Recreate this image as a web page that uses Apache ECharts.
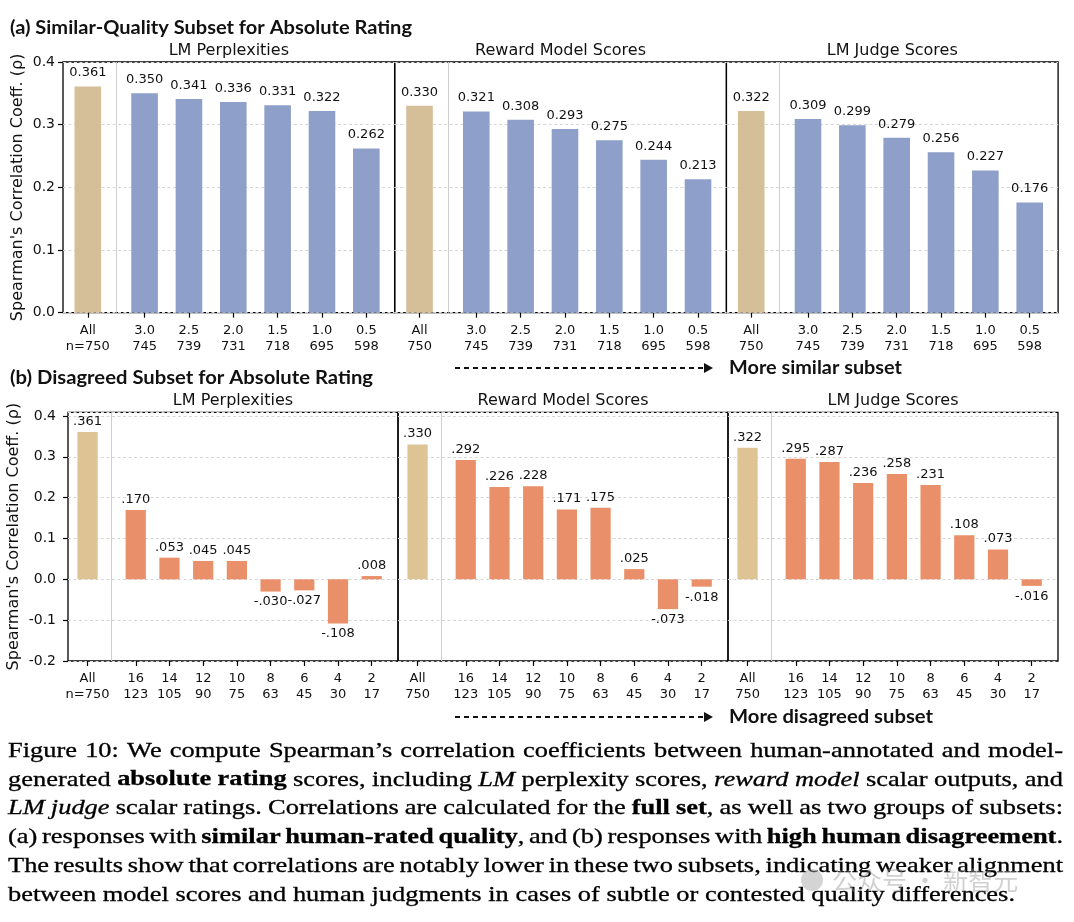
<!DOCTYPE html>
<html>
<head>
<meta charset="utf-8">
<script src="https://cdn.jsdelivr.net/npm/echarts@6/dist/echarts.min.js"></script>
<style>
  html, body { margin: 0; padding: 0; background: #fff; }
  #chart { width: 1074px; height: 922px; }
</style>
</head>
<body>
<div id="chart"></div>
<script>
// ---- data ----
const panelTitles = ["LM Perplexities", "Reward Model Scores", "LM Judge Scores"];

// (a) similar-quality subsets
const simThresholds = ["3.0", "2.5", "2.0", "1.5", "1.0", "0.5"];
const simCounts = [745, 739, 731, 718, 695, 598];
const simPPL = [0.361, 0.350, 0.341, 0.336, 0.331, 0.322, 0.262];
const simRM = [0.330, 0.321, 0.308, 0.293, 0.275, 0.244, 0.213];
const simJudge = [0.322, 0.309, 0.299, 0.279, 0.256, 0.227, 0.176];

// (b) disagreed subsets
const disThresholds = ["16", "14", "12", "10", "8", "6", "4", "2"];
const disCounts = [123, 105, 90, 75, 63, 45, 30, 17];
const disPPL = [0.361, 0.170, 0.053, 0.045, 0.045, -0.030, -0.027, -0.108, 0.008];
const disRM = [0.330, 0.292, 0.226, 0.228, 0.171, 0.175, 0.025, -0.073, -0.018];
const disJudge = [0.322, 0.295, 0.287, 0.236, 0.258, 0.231, 0.108, 0.073, -0.016];

const allN = 750;

const TAN_A = "#d5bf99", BLUE = "#8e9fc9";
const TAN_B = "#dec494", ORANGE = "#e9906a";
const FONT = "DejaVu Sans";

const chart = echarts.init(document.getElementById("chart"));

// row layouts
const rows = [
  { top: 62, height: 250.7, left: 63, width: 331.7, xmin: -0.56, xmax: 6.92, gap: 1.28,
    ymin: 0, ymax: 0.4, labelMargin: 8, nameGap: 37, barLabelDist: 7,
    thresholds: simThresholds, counts: simCounts, series: [simPPL, simRM, simJudge],
    tan: TAN_A, color: BLUE, fmt: v => v.toFixed(3) },
  { top: 412.3, height: 248.7, left: 68, width: 330, xmin: -0.58, xmax: 9.21, gap: 1.43,
    ymin: -0.2, ymax: 0.409, labelMargin: 12, nameGap: 46, barLabelDist: 4,
    thresholds: disThresholds, counts: disCounts, series: [disPPL, disRM, disJudge],
    tan: TAN_B, color: ORANGE, fmt: v => v.toFixed(3).replace(/^(-?)0\./, "$1.") }
];

const grids = [], xAxes = [], yAxes = [], series = [], graphics = [];

rows.forEach((row, r) => {
  const pos = i => (i === 0 ? 0 : row.gap + (i - 1));
  const positions = row.series[0].map((_, i) => pos(i));
  const barW = 0.6 * row.width / (row.xmax - row.xmin);
  for (let p = 0; p < 3; p++) {
    const k = r * 3 + p;
    const left = row.left + p * row.width;
    grids.push({ left, top: row.top, width: row.width, height: row.height,
      show: true, borderColor: "#000", borderWidth: 1.3, backgroundColor: "transparent" });
    const labels = positions.map((_, i) =>
      i === 0 ? (p === 0 ? "All\nn=" + allN : "All\n" + allN)
              : row.thresholds[i - 1] + "\n" + row.counts[i - 1]);
    xAxes.push({
      type: "value", gridIndex: k, min: row.xmin, max: row.xmax, position: "bottom",
      axisLine: { show: false, onZero: false },
      splitLine: { show: false },
      axisTick: { show: true, customValues: positions, length: 5, lineStyle: { color: "#000", width: 1.2 } },
      axisLabel: {
        customValues: positions, margin: 10, fontSize: 13, lineHeight: 16,
        fontFamily: FONT, color: "#111", align: "center",
        formatter: v => {
          const i = positions.findIndex(q => Math.abs(q - v) < 1e-6);
          return i < 0 ? "" : labels[i];
        }
      }
    });
    yAxes.push({
      type: "value", gridIndex: k, min: row.ymin, max: row.ymax, interval: 0.1, position: "left",
      name: p === 0 ? "Spearman's Correlation Coeff. (\u03c1)" : "",
      nameLocation: "middle", nameGap: row.nameGap, nameMoveOverlap: false,
      nameTextStyle: { fontSize: 16, fontFamily: FONT, color: "#111" },
      axisLine: { show: false, onZero: false },
      axisTick: { show: p === 0, length: 5, lineStyle: { color: "#000", width: 1.2 } },
      axisLabel: {
        show: p === 0, margin: row.labelMargin, fontSize: 14, fontFamily: FONT, color: "#111",
        showMaxLabel: row.ymax === 0.4,
        formatter: v => (Math.abs(v) < 1e-9 ? "0.0" : v.toFixed(1))
      },
      splitLine: { show: true, lineStyle: { color: "#d6d6d6", width: 1, type: [3, 2.5] } }
    });
    const vals = row.series[p];
    series.push({
      type: "bar", xAxisIndex: k, yAxisIndex: k, barWidth: barW, animation: false,
      data: vals.map((v, i) => ({
        value: [pos(i), v],
        itemStyle: { color: i === 0 ? row.tan : row.color },
        label: { position: v < 0 ? "bottom" : "top" }
      })),
      label: {
        show: true, distance: row.barLabelDist, fontSize: 13, fontFamily: FONT, color: "#111",
        formatter: prm => row.fmt(prm.value[1])
      },
      markLine: {
        silent: true, symbol: "none", animation: false,
        label: { show: false },
        lineStyle: { color: "#cfcfcf", width: 1, type: "solid" },
        data: [{ xAxis: row.gap / 2 }]
      }
    });
    graphics.push({
      type: "text", x: left + row.width / 2, y: row.top - 11,
      style: { text: panelTitles[p], fontSize: 16, fontFamily: FONT, fill: "#111",
        align: "center", verticalAlign: "middle", textAlign: "center", textVerticalAlign: "middle" }
    });
  }
});

const ctx = document.createElement("canvas").getContext("2d");

// section titles and arrows (stretched to the reference widths)
function boldText(txt, x, y, right) {
  ctx.font = "bold 18px Lato";
  const s = (right - x) / ctx.measureText(txt).width;
  return { type: "text", x, y, scaleX: s,
    style: { text: txt, fontSize: 18, fontWeight: "bold", fontFamily: "Lato", fill: "#111",
      align: "left", verticalAlign: "middle", textAlign: "left", textVerticalAlign: "middle" } };
}
function arrow(y) {
  return [
    { type: "line", shape: { x1: 455, y1: y, x2: 704, y2: y },
      style: { stroke: "#111", lineWidth: 2, lineDash: [5, 4] } },
    { type: "polygon", shape: { points: [[704, y - 5], [713, y], [704, y + 5]] },
      style: { fill: "#111" } }
  ];
}
graphics.push(boldText("(a) Similar-Quality Subset for Absolute Rating", 10, 28, 412));
graphics.push(boldText("(b) Disagreed Subset for Absolute Rating", 10, 378, 373));
graphics.push(boldText("More similar subset", 729, 368, 902));
graphics.push(boldText("More disagreed subset", 729, 717, 933));
graphics.push(...arrow(368), ...arrow(717));

// caption
const capLines = [
  [["n", "Figure 10: We compute Spearman\u2019s correlation coefficients between human-annotated and model-"]],
  [["n", "generated "], ["b", "absolute rating"], ["n", " scores, including "], ["i", "LM"],
   ["n", " perplexity scores, "], ["i", "reward model"], ["n", " scalar outputs, and"]],
  [["i", "LM judge"], ["n", " scalar ratings. Correlations are calculated for the "], ["b", "full set"],
   ["n", ", as well as two groups of subsets:"]],
  [["n", "(a) responses with "], ["b", "similar human-rated quality"], ["n", ", and (b) responses with "],
   ["b", "high human disagreement"], ["n", "."]],
  [["n", "The results show that correlations are notably lower in these two subsets, indicating weaker alignment"]],
  [["n", "between model scores and human judgments in cases of subtle or contested quality differences."]]
];
const CAP_SIZE = 21.5, CAP_FAMILY = "Liberation Serif";
const capFont = st => (st === "i" ? "italic " : "") + (st === "b" ? "bold " : "") + CAP_SIZE + "px \"" + CAP_FAMILY + "\"";
function words(line) {
  const out = [];
  let cur = [];
  line.forEach(([st, txt]) => {
    const parts = txt.split(" ");
    parts.forEach((w, j) => {
      if (j > 0) { if (cur.length) out.push(cur); cur = []; }
      if (w) cur.push([st, w]);
    });
  });
  if (cur.length) out.push(cur);
  return out.map(runs => {
    let w = 0;
    const rs = runs.map(([st, t]) => { ctx.font = capFont(st); const rw = ctx.measureText(t).width; const o = { st, t, off: w, w: rw }; w += rw; return o; });
    return { runs: rs, w };
  });
}
ctx.font = capFont("n");
const spaceW = ctx.measureText(" ").width;
const capWords = capLines.map(words);
const natural = ws => ws.reduce((a, b) => a + b.w, 0) + spaceW * (ws.length - 1);
const capLeft = 8, capRight = 1063, lastRight = 1015;
const sx = (lastRight - capLeft) / natural(capWords[capWords.length - 1]);
capWords.forEach((ws, li) => {
  const y = 751 + 28.9 * li;
  const last = li === capWords.length - 1;
  const total = ws.reduce((a, b) => a + b.w, 0);
  const gapW = last ? spaceW : ((capRight - capLeft) / sx - total) / (ws.length - 1);
  let x = 0;
  ws.forEach(wd => {
    wd.runs.forEach(run => {
      graphics.push({ type: "text", x: capLeft + (x + run.off) * sx, y, scaleX: sx,
        style: { text: run.t, fontSize: CAP_SIZE, fontFamily: CAP_FAMILY,
          fontWeight: run.st === "b" ? "bold" : "normal", fontStyle: run.st === "i" ? "italic" : "normal",
          fill: "#000", stroke: "#000", lineWidth: 0.3,
          align: "left", verticalAlign: "middle", textAlign: "left", textVerticalAlign: "middle" } });
    });
    x += wd.w + gapW;
  });
});

// faint watermark
graphics.push({ type: "circle", shape: { cx: 812, cy: 880, r: 11 }, style: { fill: "rgba(160,160,160,0.45)" } });
graphics.push({ type: "text", x: 832, y: 880,
  style: { text: "公众号 · 新智元", fontSize: 25, fontFamily: "Noto Sans CJK SC", fill: "rgba(150,150,150,0.45)",
    align: "left", verticalAlign: "middle", textAlign: "left", textVerticalAlign: "middle" } });

chart.setOption({
  backgroundColor: "#fff",
  animation: false,
  grid: grids,
  xAxis: xAxes,
  yAxis: yAxes,
  series,
  graphic: graphics
});
window.onresize = function () { chart.resize(); };
</script>
</body>
</html>
